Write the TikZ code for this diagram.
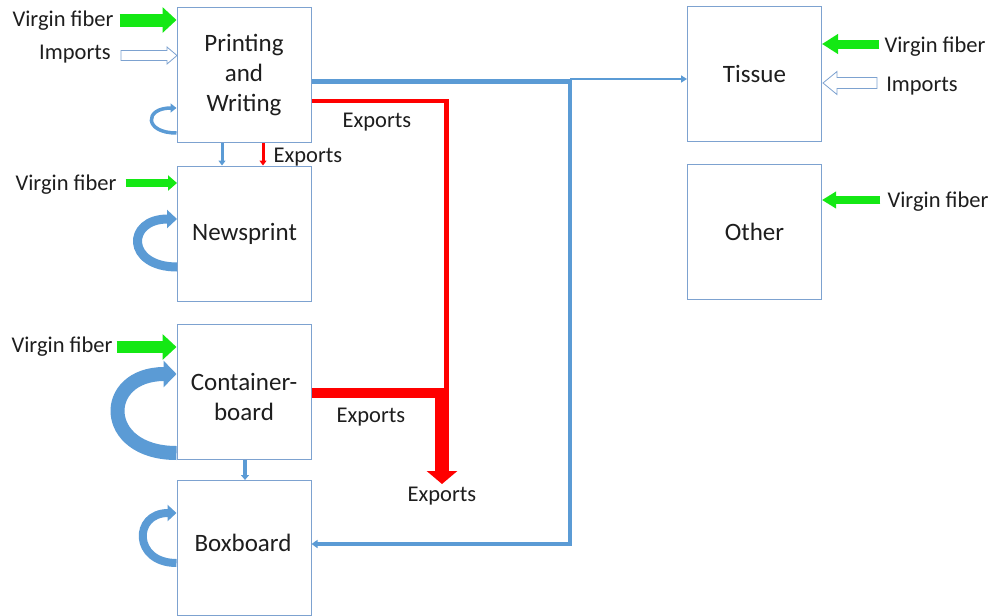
\documentclass[tikz,border=0pt]{standalone}
\usepackage{fontspec}
\setmainfont{Carlito}
\usetikzlibrary{arrows.meta}
\definecolor{boxc}{RGB}{125,162,208}
\definecolor{bluel}{RGB}{91,155,213}
\definecolor{redl}{RGB}{255,0,0}
\definecolor{greenl}{RGB}{20,232,20}
\definecolor{txt}{RGB}{30,30,30}
\begin{document}
\begin{tikzpicture}[x=1pt,y=-1pt,line join=miter,
  box/.style={draw=boxc, line width=1pt, minimum width=134pt, minimum height=135pt, inner sep=0pt, align=center, text=txt, font=\fontsize{25}{30}\selectfont},
  boxtext/.style={inner sep=0pt, align=center, text=txt, font=\fontsize{25}{30}\selectfont},
  lbl/.style={text=txt, inner sep=1pt, font=\fontsize{22.5}{27}\selectfont},
  garrow/.style={draw=greenl, line width=#1},
  hollow/.style={fill=white, draw=boxc, line width=0.8pt},
  bline/.style={draw=bluel},
  rline/.style={draw=redl}
]
\useasboundingbox (0,0) rectangle (994,616);
\fill[white] (0,0) rectangle (994,616);

% boxes
\node[box] (pw) at (244,75) {Printing\\and\\Writing};
\node[box] (ns) at (244.5,233.5) {Newsprint};
\node[box] (cb) at (244,391.5) {};
\node[boxtext] (cbt) at (244,397) {Container-\\board};
\node[box] (bb) at (244,548) {};
\node[boxtext] (bbt) at (243,543) {Boxboard};
\node[box] (ti) at (754.5,74) {Tissue};
\node[box] (ot) at (754.5,231.5) {Other};

% labels
\node[lbl] (vf1) at (63,21) {Virgin fiber};
\node[lbl] (im1) at (75,54) {Imports};
\node[lbl] (vf2) at (66,185) {Virgin fiber};
\node[lbl] (vf3) at (62,347) {Virgin fiber};
\node[lbl] (vf4) at (935,47) {Virgin fiber};
\node[lbl] (im2) at (922,86) {Imports};
\node[lbl] (vf5) at (938,202) {Virgin fiber};
\node[lbl] (ex1) at (377,122) {Exports};
\node[lbl] (ex2) at (308,157) {Exports};
\node[lbl] (ex3) at (371,417) {Exports};
\node[lbl] (ex4) at (442,496) {Exports};

% green inputs
\draw[garrow=13pt, -{Triangle[length=14pt,width=25pt]}] ([xshift=5pt,yshift=1pt]vf1.east) -- ([yshift=1pt]vf1.east -| pw.west);
\draw[garrow=8pt, -{Triangle[length=9pt,width=15pt]}] ([xshift=8pt,yshift=2pt]vf2.east) -- ([yshift=2pt]vf2.east -| ns.west);
\draw[garrow=12pt, -{Triangle[length=14pt,width=25pt]}] ([xshift=3pt]vf3.east) -- (vf3.east -| cb.west);
\draw[garrow=9pt, -{Triangle[length=16pt,width=19pt]}] ([xshift=-4pt,yshift=3pt]vf4.west) -- ([yshift=3pt]vf4.west -| ti.east);
\draw[garrow=8pt, -{Triangle[length=14pt,width=16pt]}] ([xshift=-6pt,yshift=2pt]vf5.west) -- ([yshift=2pt]vf5.west -| ot.east);

% hollow import arrows
\filldraw[hollow] (121,50.5) -- (167,50.5) -- (167,47) -- (177,55.5) -- (167,64) -- (167,60.5) -- (121,60.5) -- cycle;
\filldraw[hollow] (877,77.5) -- (837,77.5) -- (837,71.5) -- (823,83) -- (837,94.5) -- (837,88.5) -- (877,88.5) -- cycle;

% self loops
\draw[bline, line width=3.5pt, -{Triangle[length=6pt,width=9pt]}] (pw.west |- 0,133) .. controls (144,133) and (144,108) .. (pw.west |- 0,108);
\draw[bline, line width=9pt, -{Triangle[length=10pt,width=18pt]}] (ns.west |- 0,267) .. controls (126,267) and (126,219) .. (ns.west |- 0,219);
\draw[bline, line width=14pt, -{Triangle[length=13pt,width=26pt]}] (cb.west |- 0,453) .. controls (100,453) and (100,374) .. (cb.west |- 0,374);
\draw[bline, line width=8pt, -{Triangle[length=9pt,width=16pt]}] (bb.west |- 0,563) .. controls (133,563) and (133,513) .. (bb.west |- 0,513);

% vertical transfers
\draw[bline, line width=3pt, -{Triangle[length=5pt,width=7pt]}] (pw.south -| 222,0) -- (ns.north -| 222,0);
\draw[rline, line width=3pt, -{Triangle[length=5pt,width=7pt]}] (pw.south -| 263,0) -- (ns.north -| 263,0);
\draw[bline, line width=4pt, -{Triangle[length=5pt,width=8pt]}] (cb.south -| 245,0) -- (bb.north -| 245,0);

% blue recovered fibre lines
\coordinate (j) at (570,81);
\draw[bline, line width=5pt] (pw.east |- 0,81) -- (j);
\draw[bline, line width=2.5pt, -{Triangle[length=6pt,width=7pt]}] (570,79) -- (ti.west |- 0,79);
\draw[bline, line width=4.5pt, -{Triangle[length=6pt,width=8pt]}] (570,78.5) -- (570,544) -- (bb.east |- 0,544);

% red export lines
\draw[rline, line width=4.5pt] (pw.east |- 0,101) -- (446.5,101) -- (446.5,390);
\draw[rline, line width=10pt] (cb.east |- 0,393) -- (449,393);
\coordinate (rt) at (442,484);
\draw[rline, line width=14pt, -{Triangle[length=13pt,width=30pt]}] (442,388) -- (rt);
\end{tikzpicture}
\end{document}
